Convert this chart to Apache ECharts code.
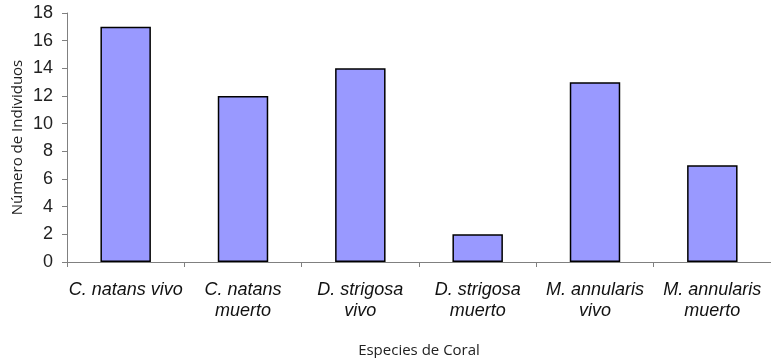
<!DOCTYPE html>
<html>
<head>
<meta charset="utf-8">
<script src="https://cdn.jsdelivr.net/npm/echarts@6/dist/echarts.min.js"></script>
<style>
  html, body { margin: 0; padding: 0; background: #fff; }
  #chart { width: 771px; height: 358px; }
</style>
</head>
<body>
<div id="chart"></div>
<script>
const categories = ['C. natans vivo', 'C. natans\nmuerto', 'D. strigosa\nvivo', 'D. strigosa\nmuerto', 'M. annularis\nvivo', 'M. annularis\nmuerto']
const individuos = [17, 12, 14, 2, 13, 7]
const yTicks = { min: 0, max: 18, interval: 2 }

const chart = echarts.init(document.getElementById('chart'))
const font = '"Liberation Sans", Arial, sans-serif'

chart.setOption({
    animation: false,
    grid: { left: 67, right: 0, top: 13, bottom: 96, outerBoundsMode: 'none' },
    xAxis: {
        type: 'category',
        data: categories,
        name: 'Especies de Coral',
        nameLocation: 'middle',
        nameGap: 81,
        nameTextStyle: { fontFamily: 'Open Sans, sans-serif', fontSize: 15, color: '#222' },
        axisLine: { lineStyle: { color: '#808080', width: 1 } },
        axisTick: { show: true, length: 5, lineStyle: { color: '#808080' } },
        axisLabel: {
            interval: 0,
            margin: 17,
            fontFamily: font,
            fontStyle: 'italic',
            fontSize: 18,
            lineHeight: 21,
            color: '#111'
        }
    },
    yAxis: {
        type: 'value',
        min: yTicks.min,
        max: yTicks.max,
        interval: yTicks.interval,
        name: 'Número de Individuos',
        nameLocation: 'middle',
        nameGap: 42,
        nameMoveOverlap: false,
        nameTextStyle: { fontFamily: 'Open Sans, sans-serif', fontSize: 15, color: '#222' },
        axisLine: { show: true, lineStyle: { color: '#808080', width: 1 } },
        axisTick: { show: true, length: 5, lineStyle: { color: '#808080' } },
        splitLine: { show: false },
        axisLabel: { fontFamily: font, fontSize: 18, color: '#222', margin: 14 }
    },
    series: [
        {
            type: 'bar',
            data: individuos,
            barWidth: '43%',
            itemStyle: { color: '#9999FF', borderColor: '#000', borderWidth: 1.5 }
        }
    ]
})
</script>
</body>
</html>
